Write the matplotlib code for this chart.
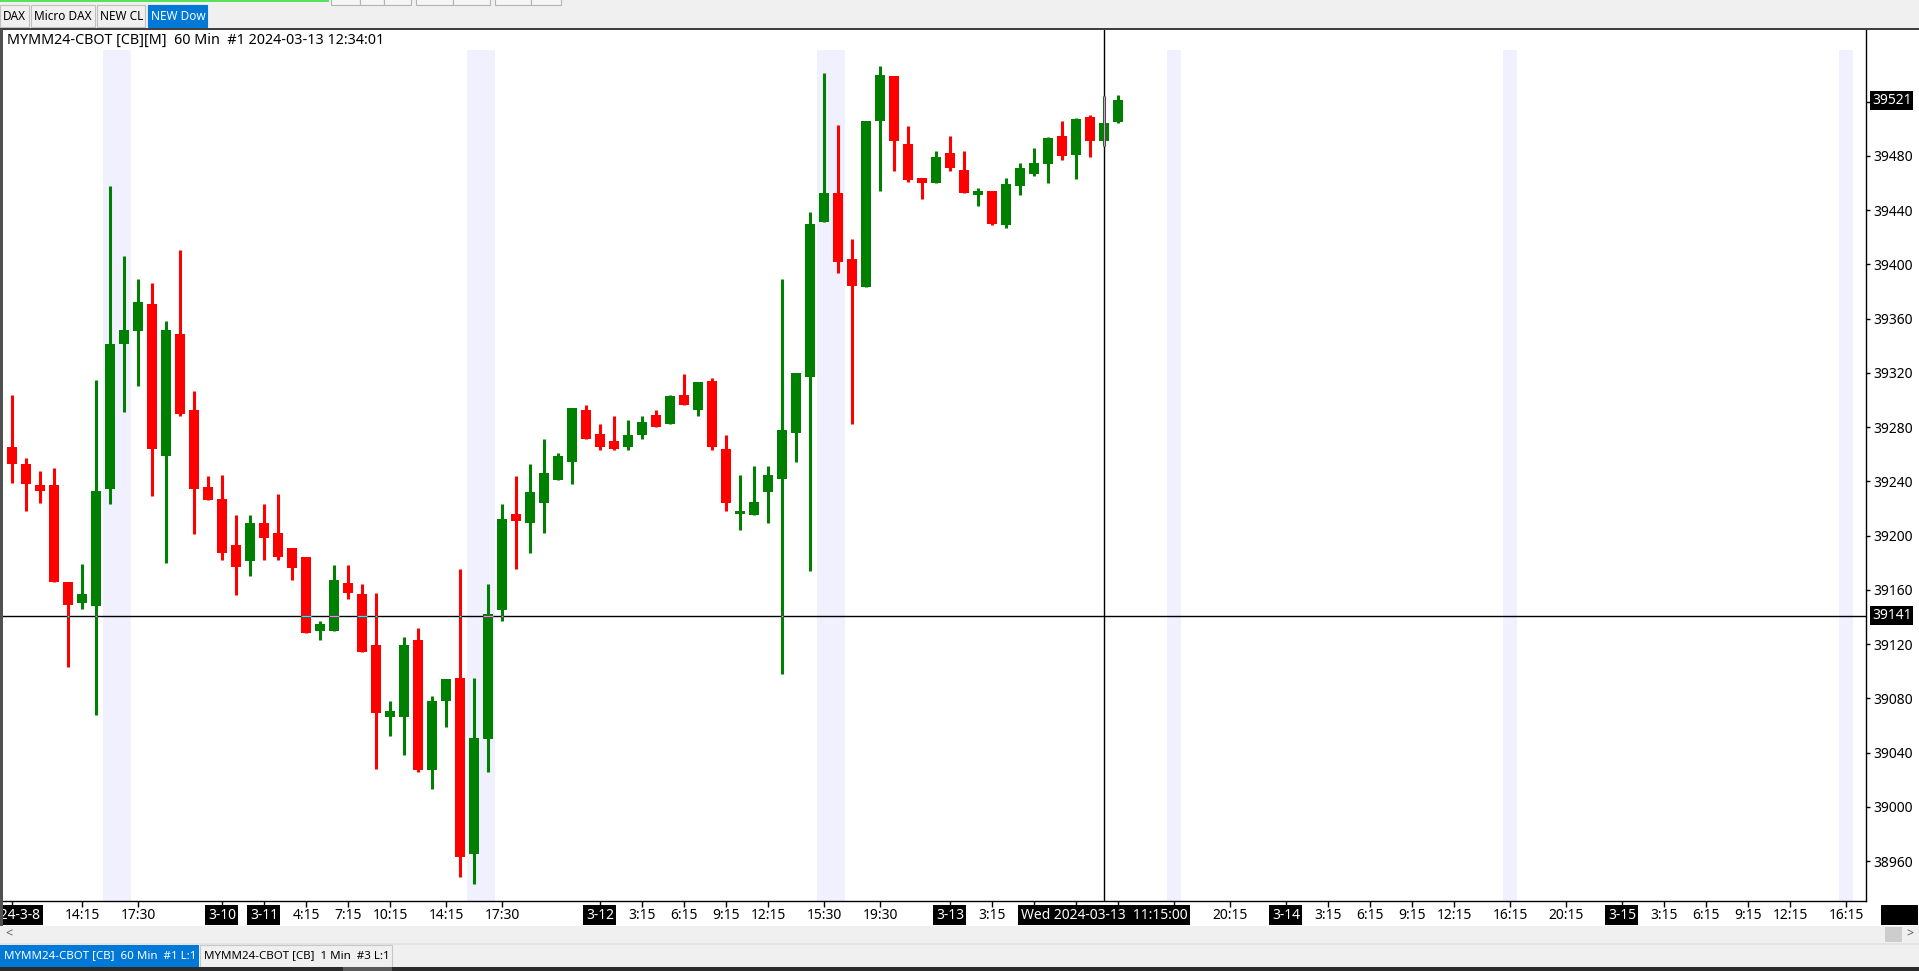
import matplotlib
matplotlib.use('Agg')
import matplotlib.pyplot as plt
import matplotlib.transforms as mtransforms
from matplotlib.patches import Rectangle
import numpy as np

plt.rcParams['font.family'] = ['Noto Sans', 'DejaVu Sans']

W, H = 1919, 971

# 60 min bars, MYMM24
opens = [39265, 39253, 39237, 39237, 39166, 39150, 39148, 39234, 39341, 39351,
         39371, 39259, 39349, 39293, 39236, 39227, 39193, 39181, 39209, 39202,
         39191, 39184, 39130, 39130, 39165, 39157, 39119, 39066, 39066, 39123,
         39027, 39078, 39095, 38965, 39050, 39145, 39216, 39209, 39224, 39241,
         39254, 39293, 39275, 39270, 39265, 39274, 39289, 39282, 39304, 39293,
         39314, 39264, 39216, 39215, 39232, 39242, 39276, 39317, 39431, 39453,
         39404, 39383, 39506, 39539, 39489, 39464, 39460, 39482, 39470, 39451,
         39454, 39429, 39458, 39467, 39474, 39495, 39481, 39509, 39491, 39505]
highs = [39304, 39257, 39248, 39250, 39166, 39179, 39315, 39458, 39406, 39389,
         39386, 39358, 39411, 39307, 39244, 39245, 39215, 39215, 39223, 39231,
         39191, 39184, 39137, 39178, 39178, 39164, 39158, 39078, 39125, 39132,
         39082, 39094, 39175, 39095, 39164, 39223, 39244, 39253, 39271, 39261,
         39294, 39296, 39282, 39288, 39285, 39288, 39293, 39304, 39319, 39313,
         39316, 39274, 39245, 39251, 39251, 39389, 39320, 39439, 39541, 39503,
         39419, 39506, 39546, 39539, 39502, 39464, 39484, 39495, 39484, 39456,
         39454, 39464, 39475, 39486, 39494, 39506, 39508, 39510, 39524, 39525]
lows = [39239, 39218, 39224, 39166, 39103, 39146, 39068, 39223, 39291, 39310,
        39229, 39180, 39288, 39201, 39226, 39182, 39156, 39170, 39182, 39182,
        39167, 39128, 39123, 39130, 39153, 39114, 39028, 39052, 39038, 39026,
        39013, 39059, 38948, 38943, 39026, 39137, 39175, 39187, 39202, 39241,
        39238, 39271, 39263, 39263, 39263, 39271, 39280, 39282, 39296, 39288,
        39263, 39218, 39204, 39215, 39209, 39098, 39254, 39174, 39431, 39394,
        39282, 39383, 39454, 39469, 39461, 39448, 39460, 39469, 39453, 39443,
        39429, 39427, 39451, 39465, 39460, 39477, 39463, 39479, 39487, 39504]
closes = [39253, 39238, 39233, 39166, 39149, 39157, 39233, 39341, 39352, 39372,
          39264, 39352, 39290, 39234, 39226, 39187, 39177, 39209, 39198, 39184,
          39176, 39128, 39135, 39167, 39158, 39114, 39069, 39071, 39119, 39027,
          39078, 39094, 38963, 39051, 39142, 39212, 39211, 39232, 39246, 39259,
          39294, 39271, 39265, 39264, 39274, 39284, 39280, 39303, 39296, 39313,
          39265, 39224, 39218, 39225, 39245, 39278, 39320, 39430, 39453, 39402,
          39384, 39506, 39540, 39491, 39462, 39460, 39479, 39471, 39453, 39454,
          39430, 39459, 39471, 39475, 39493, 39480, 39507, 39491, 39504, 39521]

# shaded session-break bars
break_bars = [7, 8, 33, 34, 58, 59, 83, 107, 131]

# x axis labels (bar index -> text), date labels get a black box
tick_pos = [0, 5, 9, 15, 18, 21, 24, 27, 31, 35, 42, 45, 48, 51, 54, 58, 62, 67, 70,
            73, 76, 79, 83, 87, 91, 94, 97, 100, 103, 107, 111, 115, 118, 121, 124, 127, 131]
tick_lbl = ['2024-3-8', '14:15', '17:30', '3-10', '3-11', '4:15', '7:15', '10:15', '14:15',
            '17:30', '3-12', '3:15', '6:15', '9:15', '12:15', '15:30', '19:30', '3-13', '3:15',
            '', '', '', '', '20:15', '3-14', '3:15', '6:15', '9:15', '12:15', '16:15', '20:15',
            '3-15', '3:15', '6:15', '9:15', '12:15', '16:15']
date_lbls = ['2024-3-8', '3-10', '3-11', '3-12', '3-13', '3-14', '3-15']

price_ticks = list(range(38960, 39521, 40))

cross_bar = 78
cross_price = 39141
cross_text = 'Wed 2024-03-13  11:15:00'
title = 'MYMM24-CBOT [CB][M]  60 Min  #1 2024-03-13 12:34:01'

GREEN = '#008000'
RED = '#ff0000'


def px_rect(fig, x0, y0, x1, y1, **kw):
    r = Rectangle((x0 / W, 1 - y1 / H), (x1 - x0) / W, (y1 - y0) / H,
                  transform=fig.transFigure, **kw)
    fig.patches.append(r)


def px_text(fig, x, y, s, **kw):
    fig.text(x / W, 1 - y / H, s, **kw)


fig = plt.figure(figsize=(W / 100, H / 100), dpi=100)
fig.patch.set_facecolor('white')

# ---- window chrome (top strip + tabs) ----
px_rect(fig, 0, 0, W, 29, facecolor='#f0f0f0', edgecolor='none')
px_rect(fig, 0, 0, 329, 2, facecolor='#5be05b', edgecolor='none')
for x0, x1 in [(331, 360), (360, 384), (384, 411), (416, 453), (453, 490), (495, 531), (531, 561)]:
    px_rect(fig, x0, -2, x1, 5, facecolor='#f5f5f5', edgecolor='#b4b4b4', linewidth=0.8)
tabs = [('DAX', 0, 29), ('Micro DAX', 31, 95), ('NEW CL', 97, 145), ('NEW Dow', 148, 207)]
for name, x0, x1 in tabs:
    sel = name == 'NEW Dow'
    px_rect(fig, x0, 5, x1, 27, facecolor='#0078d7' if sel else '#f0f0f0',
            edgecolor='#0078d7' if sel else '#c0c0c0', linewidth=0.8)
    px_text(fig, x0 + 3, 16, name, fontsize=8.5, va='center', ha='left',
            color='white' if sel else 'black')

# ---- bottom chrome ----
px_rect(fig, 0, 926, W, 971, facecolor='#f0f0f0', edgecolor='none')
px_rect(fig, 0, 943, W, 945, facecolor='#e3e3e3', edgecolor='none')
px_text(fig, 9, 934, '<', fontsize=9, va='center', ha='center', color='#606060')
px_text(fig, 1910, 934, '>', fontsize=9, va='center', ha='center', color='#606060')
px_rect(fig, 1885, 927, 1902, 942, facecolor='#cdcdcd', edgecolor='none')
px_rect(fig, 0, 945, 199, 967, facecolor='#0078d7', edgecolor='none')
px_text(fig, 4, 956, 'MYMM24-CBOT [CB]  60 Min  #1 L:1', fontsize=8.3, va='center', color='white')
px_rect(fig, 200, 945, 392, 967, facecolor='#f0f0f0', edgecolor='#c8c8c8', linewidth=0.8)
px_text(fig, 204, 956, 'MYMM24-CBOT [CB]  1 Min  #3 L:1', fontsize=8.3, va='center', color='black')
px_rect(fig, 0, 967, W, 971, facecolor='#2b2b2b', edgecolor='none')
px_rect(fig, 343, 967, 392, 971, facecolor='#5a5a5a', edgecolor='none')
px_rect(fig, 1881, 905, 1918, 925, facecolor='black', edgecolor='none')
px_rect(fig, 0, 28.5, W, 29.8, facecolor='#404040', edgecolor='none')
px_rect(fig, 0, 29, 2.5, 926, facecolor='#505050', edgecolor='none')

# ---- price chart ----
ax = fig.add_axes([3 / W, (H - 901) / H, (1866 - 3) / W, (901 - 30) / H])
ax.set_xlim(-0.643, 132.43)
ax.set_ylim(38930.5, 39572.9)

o = np.array(opens)
h = np.array(highs)
l = np.array(lows)
c = np.array(closes)
x = np.arange(len(o))
up = c >= o
colors = np.where(up, GREEN, RED)

for b in break_bars:
    ax.axvspan(b - 0.5, b + 0.5, ymin=0, ymax=(901 - 50) / 871,
               color='#f0f0ff', lw=0, zorder=0)

ax.vlines(x, l, h, colors=colors, linewidth=2.2, zorder=2)
body_lo = np.minimum(o, c)
body_h = np.maximum(np.abs(c - o), 2.5)
ax.bar(x, body_h, bottom=body_lo, width=0.7, color=colors, linewidth=0, zorder=3)

# crosshair (drawn XOR style in the original)
ax.axhline(cross_price, color='black', linewidth=1, zorder=4)
ax.axvline(cross_bar, color='black', linewidth=1, zorder=4)
ax.vlines([cross_bar], l[cross_bar], h[cross_bar], colors='#ff7fff', linewidth=0.9, zorder=5)
for i in x:
    if l[i] <= cross_price <= h[i]:
        xor = '#ff7fff' if up[i] else '#00ffff'
        hw = 0.35 if body_lo[i] <= cross_price <= body_lo[i] + body_h[i] else 0.08
        ax.hlines(cross_price, i - hw, i + hw, colors=xor, linewidth=1, zorder=5)

for side in ['left', 'top']:
    ax.spines[side].set_visible(False)
ax.spines['right'].set_linewidth(1)
ax.spines['bottom'].set_linewidth(1)

# y axis on the right
ax.yaxis.tick_right()
ax.set_yticks(price_ticks)
ax.set_yticklabels(['' if p == 39520 else str(p) for p in price_ticks])
ax.tick_params(axis='y', length=3, width=1, pad=2, labelsize=10)

# x axis: tick marks only, labels drawn by hand so date boxes line up
ax.set_xticks(tick_pos)
ax.set_xticklabels([''] * len(tick_pos))
ax.tick_params(axis='x', length=4, width=1)
xtr = ax.get_xaxis_transform()
for p, s in zip(tick_pos, tick_lbl):
    if not s:
        continue
    if s in date_lbls:
        ax.text(p, -0.0161, s, transform=xtr, ha='center', va='center', fontsize=10,
                color='white', clip_on=False,
                bbox=dict(boxstyle='square,pad=0.18', fc='black', ec='none'))
    else:
        ax.text(p, -0.0161, s, transform=xtr, ha='center', va='center', fontsize=10,
                color='black', clip_on=False)
ax.text(cross_bar, -0.0161, cross_text, transform=xtr, ha='center', va='center',
        fontsize=10, color='white', clip_on=False,
        bbox=dict(boxstyle='square,pad=0.18', fc='black', ec='none'))

# price boxes on the y axis
ytr = mtransforms.blended_transform_factory(ax.transAxes, ax.transData)
for p in [closes[-1], cross_price]:
    ax.annotate(str(p), xy=(1, p), xycoords=ytr, xytext=(6, 0), textcoords='offset pixels',
                ha='left', va='center', fontsize=10, color='white', annotation_clip=False,
                bbox=dict(boxstyle='square,pad=0.12', fc='black', ec='none'))

px_text(fig, 7, 40, title, fontsize=10.3, va='center', ha='left', color='black')

fig.savefig('out.png', dpi=100)
